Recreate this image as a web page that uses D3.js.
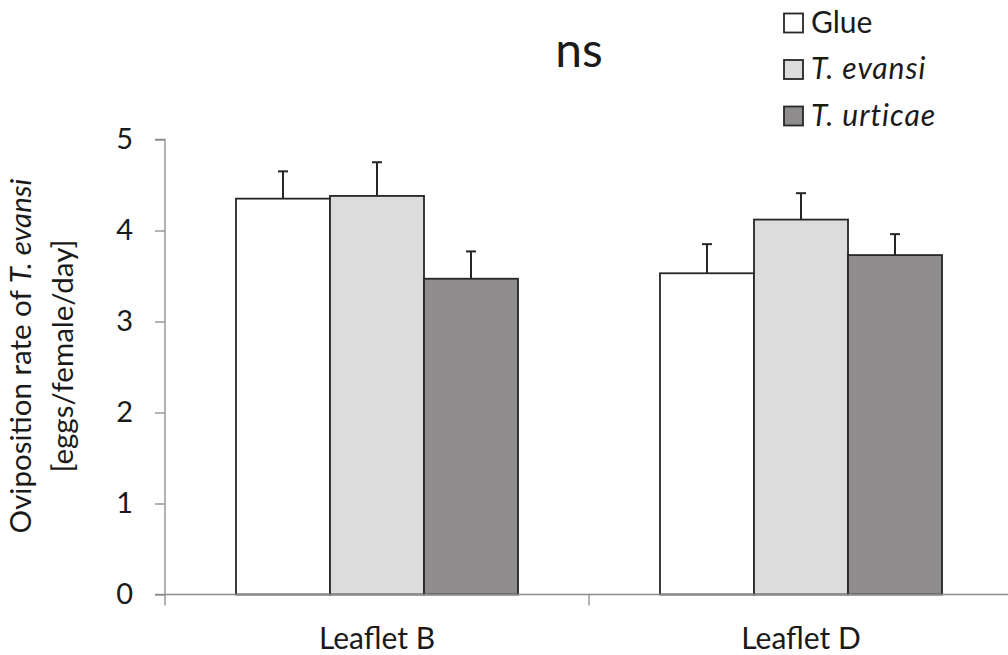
<!DOCTYPE html>
<html>
<head>
<meta charset="utf-8">
<script src="https://cdn.jsdelivr.net/npm/d3@7"></script>
<style>
  html, body { margin: 0; padding: 0; background: #fff; }
  svg { display: block; }
  text { font-family: Lato, "Open Sans", sans-serif; fill: #1a1a1a; }
</style>
</head>
<body>
<svg id="chart" width="1008" height="655"></svg>
<script>
const categories = ["Leaflet B", "Leaflet D"];
const seriesNames = ["Glue", "T. evansi", "T. urticae"];
const seriesItalic = [false, true, true];
const seriesColors = ["#ffffff", "#dcdcdc", "#8e8c8c"];
const glueValues = [4.35, 3.53];
const evansiValues = [4.38, 4.12];
const urticaeValues = [3.47, 3.73];
const glueErrors = [0.30, 0.32];
const evansiErrors = [0.37, 0.29];
const urticaeErrors = [0.30, 0.23];
const yTicks = [0, 1, 2, 3, 4, 5];
const annotation = "ns";

const values = [glueValues, evansiValues, urticaeValues];
const errors = [glueErrors, evansiErrors, urticaeErrors];

const svg = d3.select("#chart");
const axisColor = "#8a8a8a";

const y = d3.scaleLinear().domain([0, 5]).range([594.5, 139.5]);
const x0 = d3.scaleBand().domain(categories).range([165, 1013]).paddingInner(0).paddingOuter(0);
const x1 = d3.scaleBand().domain(seriesNames).range([0, x0.bandwidth()]).paddingInner(0).paddingOuter(0.755);

// Y axis
const yAxis = svg.append("g").attr("transform", "translate(165,0)")
  .call(d3.axisLeft(y).tickValues(yTicks).tickSize(10).tickPadding(22).tickFormat(d3.format("d")));
yAxis.select(".domain").attr("stroke", axisColor).attr("stroke-width", 1.3).attr("d", `M-10,${y(5)}H0V${y(0)}`);
yAxis.selectAll(".tick line").attr("stroke", axisColor).attr("stroke-width", 1.3);
yAxis.selectAll(".tick text").attr("font-size", 29).style("font-family", "Lato, 'Open Sans', sans-serif").attr("fill", "#1a1a1a");

// Bars
const groups = svg.append("g").selectAll("g").data(categories).join("g")
  .attr("transform", d => `translate(${x0(d)},0)`);

seriesNames.forEach((s, si) => {
  groups.append("line")
    .attr("x1", x1(s) + x1.bandwidth() / 2)
    .attr("x2", x1(s) + x1.bandwidth() / 2)
    .attr("y1", (d, i) => y(values[si][i]))
    .attr("y2", (d, i) => y(values[si][i] + errors[si][i]))
    .attr("stroke", "#262626").attr("stroke-width", 2);
  groups.append("line")
    .attr("x1", x1(s) + x1.bandwidth() / 2 - 5)
    .attr("x2", x1(s) + x1.bandwidth() / 2 + 5)
    .attr("y1", (d, i) => y(values[si][i] + errors[si][i]))
    .attr("y2", (d, i) => y(values[si][i] + errors[si][i]))
    .attr("stroke", "#262626").attr("stroke-width", 2);
});
seriesNames.forEach((s, si) => {
  groups.append("rect")
    .attr("x", x1(s))
    .attr("width", x1.bandwidth())
    .attr("y", (d, i) => y(values[si][i]))
    .attr("height", (d, i) => y(0) - y(values[si][i]))
    .attr("fill", seriesColors[si])
    .attr("stroke", "#262626").attr("stroke-width", 1.8);
});

// X axis
const xAxis = svg.append("g").attr("transform", `translate(0,${y(0)})`);
xAxis.append("line").attr("x1", 155).attr("x2", 1008).attr("y1", 0).attr("y2", 0)
  .attr("stroke", axisColor).attr("stroke-width", 1.3);
const boundaries = [x0(categories[0]), x0(categories[1])];
xAxis.selectAll("line.tk").data(boundaries).join("line").attr("class", "tk")
  .attr("x1", d => d).attr("x2", d => d).attr("y1", 0).attr("y2", 11)
  .attr("stroke", axisColor).attr("stroke-width", 1.3);
xAxis.selectAll("text").data(categories).join("text")
  .attr("x", d => x0(d) + x0.bandwidth() / 2)
  .attr("y", 54)
  .attr("text-anchor", "middle")
  .attr("font-size", 30)
  .text(d => d);

// Y title
const yt = svg.append("text").attr("transform", "translate(0,356) rotate(-90)").attr("text-anchor", "middle").attr("font-size", 29.5);
yt.append("tspan").attr("x", 0).attr("y", 31).text("Oviposition rate of ");
yt.append("tspan").attr("font-style", "italic").text("T. evansi");
yt.append("tspan").attr("x", 0).attr("y", 73).text("[eggs/female/day]");

// Annotation
svg.append("text").attr("x", 579).attr("y", 67).attr("text-anchor", "middle").attr("font-size", 48).text(annotation);

// Legend
const legend = svg.append("g").selectAll("g").data(seriesNames).join("g")
  .attr("transform", (d, i) => `translate(784,${13.5 + i * 46.5})`);
legend.append("rect").attr("width", 19).attr("height", 19)
  .attr("fill", (d, i) => seriesColors[i]).attr("stroke", "#262626").attr("stroke-width", 1.8);
legend.append("text").attr("x", 27).attr("y", 19).attr("font-size", 30)
  .attr("font-style", (d, i) => seriesItalic[i] ? "italic" : "normal")
  .attr("letter-spacing", (d, i) => seriesItalic[i] ? 1 : 0)
  .text(d => d);
</script>
</body>
</html>
